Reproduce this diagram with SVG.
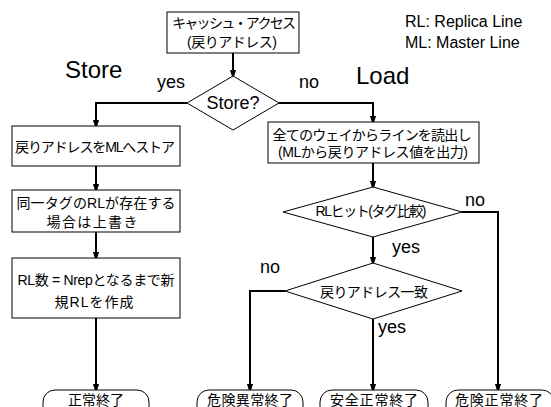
<svg xmlns="http://www.w3.org/2000/svg" width="551" height="407" viewBox="0 0 551 407">
<style>
.box{fill:#fff;stroke:#000;stroke-width:1}
.ln{fill:none;stroke:#000;stroke-width:2}
.jp{font-family:"Liberation Sans","Noto Sans CJK JP",sans-serif;font-size:14px;fill:#000;text-anchor:middle}
.lb{font-family:"Liberation Sans",Arial,sans-serif;font-size:18px;fill:#000}
.big{font-family:"Liberation Sans",Arial,sans-serif;font-size:24px;fill:#000}
.leg{font-family:"Liberation Sans",Arial,sans-serif;font-size:16px;fill:#000}
</style>
<defs>
<marker id="ah" markerWidth="10" markerHeight="16" refX="10" refY="5" orient="auto" markerUnits="userSpaceOnUse" viewBox="0 0 16 10">
<path d="M0,0 L16,5 L0,10 Z" fill="#000"/>
</marker>
</defs>
<rect width="551" height="407" fill="#fff"/>
<g id="connectors">
<path class="ln" d="M233,53 V76" marker-end="url(#ah)"/>
<path class="ln" d="M187,103 H96 V126" marker-end="url(#ah)"/>
<path class="ln" d="M279,103 H373 V122" marker-end="url(#ah)"/>
<path class="ln" d="M96,166 V190" marker-end="url(#ah)"/>
<path class="ln" d="M96,232 V258" marker-end="url(#ah)"/>
<path class="ln" d="M96,318 V390" marker-end="url(#ah)"/>
<path class="ln" d="M373,163 V187" marker-end="url(#ah)"/>
<path class="ln" d="M373,237 V263" marker-end="url(#ah)"/>
<path class="ln" d="M462,212 H498 V390" marker-end="url(#ah)"/>
<path class="ln" d="M285,291 H250 V390" marker-end="url(#ah)"/>
<path class="ln" d="M373,319 V390" marker-end="url(#ah)"/>
</g>
<g id="start">
<rect class="box" x="167" y="12" width="132" height="41"/>
<text class="jp" x="234" y="28" textLength="124">キャッシュ・アクセス</text>
<text class="jp" x="232" y="47" textLength="90">(戻りアドレス)</text>
</g>
<g id="d-store">
<polygon class="box" points="233,76 279,103 233,130 187,103"/>
<text class="lb" x="233" y="109" text-anchor="middle">Store?</text>
</g>
<g id="s1">
<rect class="box" x="12" y="126" width="168" height="40"/>
<text class="jp" x="95" y="152" textLength="160">戻りアドレスをMLへストア</text>
</g>
<g id="s2">
<rect class="box" x="12" y="190" width="168" height="42"/>
<text class="jp" x="96" y="208" textLength="159">同一タグのRLが存在する</text>
<text class="jp" x="92" y="227" textLength="91">場合は上書き</text>
</g>
<g id="s3">
<rect class="box" x="12" y="258" width="168" height="60"/>
<text class="jp" x="96" y="285" textLength="157">RL数 = Nrepとなるまで新</text>
<text class="jp" x="94" y="307" textLength="79">規RLを作成</text>
</g>
<g id="l1">
<rect class="box" x="268" y="122" width="211" height="41"/>
<text class="jp" x="372" y="140" textLength="199">全てのウェイからラインを読出し</text>
<text class="jp" x="373" y="157" textLength="190">(MLから戻りアドレス値を出力)</text>
</g>
<g id="d-rl">
<polygon class="box" points="373,187 462,212 373,237 283,212"/>
<text class="jp" x="371" y="216" textLength="111">RLヒット(タグ比較)</text>
</g>
<g id="d-ret">
<polygon class="box" points="373,263 462,291 373,319 285,291"/>
<text class="jp" x="374" y="297" textLength="108">戻りアドレス一致</text>
</g>
<g id="t1">
<rect class="box" x="43" y="390" width="106" height="30" rx="12" ry="12"/>
<text class="jp" x="96" y="405" textLength="56">正常終了</text>
</g>
<g id="t2">
<rect class="box" x="197" y="390" width="106" height="30" rx="12" ry="12"/>
<text class="jp" x="250" y="405" textLength="86">危険異常終了</text>
</g>
<g id="t3">
<rect class="box" x="320" y="390" width="108" height="30" rx="12" ry="12"/>
<text class="jp" x="374" y="405" textLength="88">安全正常終了</text>
</g>
<g id="t4">
<rect class="box" x="446" y="390" width="108" height="30" rx="12" ry="12"/>
<text class="jp" x="499" y="405" textLength="88">危険正常終了</text>
</g>
<g id="labels">
<text class="big" x="65" y="78">Store</text>
<text class="big" x="356" y="84">Load</text>
<text class="lb" x="157" y="88">yes</text>
<text class="lb" x="299" y="88">no</text>
<text class="lb" x="465" y="206">no</text>
<text class="lb" x="392" y="253">yes</text>
<text class="lb" x="260" y="273">no</text>
<text class="lb" x="378" y="333">yes</text>
<text class="leg" x="405" y="27">RL: Replica Line</text>
<text class="leg" x="405" y="48">ML: Master Line</text>
</g>
</svg>
